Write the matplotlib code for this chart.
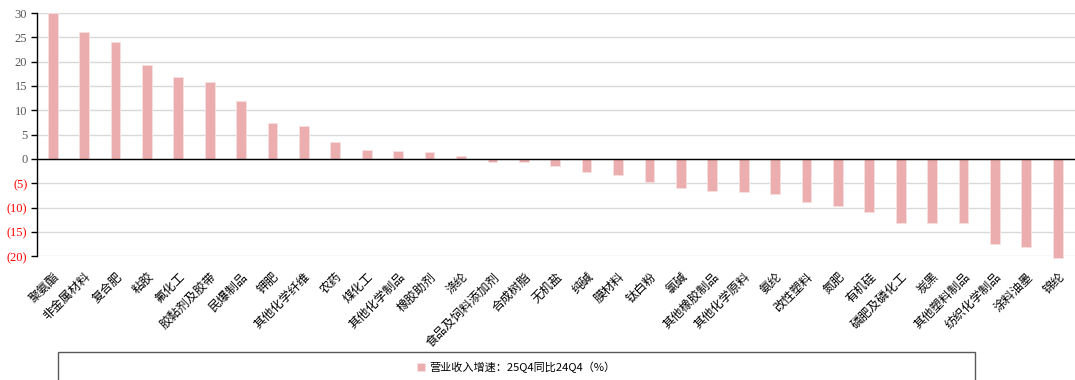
import matplotlib
matplotlib.use("Agg")
import matplotlib.pyplot as plt
from matplotlib.patches import Rectangle
import numpy as np

categories = ["聚氨酯", "非金属材料", "复合肥", "粘胶", "氟化工", "胶黏剂及胶带", "民爆制品", "钾肥",
              "其他化学纤维", "农药", "煤化工", "其他化学制品", "橡胶助剂", "涤纶", "食品及饲料添加剂",
              "合成树脂", "无机盐", "纯碱", "膜材料", "钛白粉", "氯碱", "其他橡胶制品", "其他化学原料",
              "氨纶", "改性塑料", "氮肥", "有机硅", "磷肥及磷化工", "炭黑", "其他塑料制品",
              "纺织化学制品", "涂料油墨", "锦纶"]
values = [30.0, 26.1, 24.1, 19.4, 16.9, 15.8, 11.9, 7.3, 6.7, 3.4, 1.9, 1.7, 1.5, 0.6, -0.55,
          -0.7, -1.45, -2.75, -3.3, -4.8, -5.9, -6.5, -6.8, -7.1, -8.9, -9.7, -10.9, -13.1,
          -13.2, -13.25, -17.5, -18.0, -20.3]
yticks = [30, 25, 20, 15, 10, 5, 0, -5, -10, -15, -20]
ytick_labels = ["30", "25", "20", "15", "10", "5", "0", "(5)", "(10)", "(15)", "(20)"]
legend_label = "营业收入增速：25Q4同比24Q4（%）"

cjk = ["Noto Sans CJK SC", "DejaVu Sans"]
serif = ["Liberation Serif", "DejaVu Serif"]

fig = plt.figure(figsize=(10.75, 3.8), dpi=100)
ax = fig.add_axes([37/1075, 1-256.3/380, 1-37/1075, (256.3-13)/380])

x = np.arange(len(categories))
bars = ax.bar(x, values, width=0.31, color="#EBADAD", edgecolor="#F8E0E0", linewidth=0.6,
              zorder=3, label=legend_label)
for b in bars:
    b.set_clip_on(False)

ax.set_xlim(-0.5, len(categories) - 0.45)
ax.set_ylim(-20, 30)
ax.set_yticks(yticks)
ax.set_yticklabels(ytick_labels, family=serif, fontsize=9)
for lbl, v in zip(ax.get_yticklabels(), yticks):
    lbl.set_color("#FF0000" if v < 0 else "#595959")

ax.grid(axis="y", color="#D9D9D9", linewidth=1.0, zorder=0)
ax.axhline(0, color="black", linewidth=1.0, zorder=4)
for s in ["top", "right", "bottom"]:
    ax.spines[s].set_visible(False)
ax.spines["left"].set_color("black")
ax.spines["left"].set_linewidth(1.0)
ax.tick_params(axis="y", length=4, width=1, color="black", pad=3)
ax.tick_params(axis="x", length=0, pad=10)

ax.set_xticks(x)
ax.set_xticklabels(categories, family=cjk, fontsize=8.8, rotation=45, ha="right",
                   rotation_mode="anchor", color="black")

# legend box
fig.patches.append(Rectangle((58/1075, -0.01), (975-58)/1075, (1-352/380) + 0.01,
                             transform=fig.transFigure, fill=False, edgecolor="#595959",
                             linewidth=1.0))
leg = fig.legend(handles=[bars], labels=[legend_label], loc="center",
                 bbox_to_anchor=(516/1075, 1-367.5/380), frameon=False,
                 prop={"family": cjk, "size": 8}, handlelength=0.7, handleheight=0.7,
                 handletextpad=0.4)

fig.savefig("out.png", dpi=100)
